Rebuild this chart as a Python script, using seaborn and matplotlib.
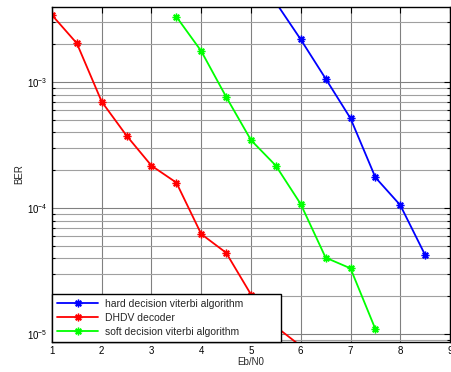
import numpy as np
import pandas as pd
import matplotlib
matplotlib.use("Agg")
import matplotlib.pyplot as plt
import seaborn as sns
from matplotlib.ticker import LogLocator, NullFormatter

# data
hard_x = [5.0, 5.5, 6.0, 6.5, 7.0, 7.5, 8.0, 8.5]
hard_y = [9.0e-3, 4.3e-3, 2.19e-3, 1.07e-3, 5.18e-4, 1.76e-4, 1.06e-4, 4.26e-5]
dhdv_x = [1.0, 1.5, 2.0, 2.5, 3.0, 3.5, 4.0, 4.5, 5.0, 5.5, 6.0]
dhdv_y = [3.42e-3, 2.04e-3, 7.02e-4, 3.77e-4, 2.18e-4, 1.6e-4, 6.25e-5, 4.44e-5, 2.07e-5, 1.15e-5, 8.07e-6]
soft_x = [3.5, 4.0, 4.5, 5.0, 5.5, 6.0, 6.5, 7.0, 7.5]
soft_y = [3.32e-3, 1.77e-3, 7.68e-4, 3.48e-4, 2.18e-4, 1.08e-4, 4.06e-5, 3.34e-5, 1.1e-5]
labels = ["hard decision viterbi algorithm", "DHDV decoder", "soft decision viterbi algorithm"]
colors = ["#0000ff", "#ff0000", "#00ff00"]

df = pd.concat([
    pd.DataFrame({"Eb/N0": hard_x, "BER": hard_y, "series": labels[0]}),
    pd.DataFrame({"Eb/N0": dhdv_x, "BER": dhdv_y, "series": labels[1]}),
    pd.DataFrame({"Eb/N0": soft_x, "BER": soft_y, "series": labels[2]}),
])

sns.set_theme(style="white")
plt.rcParams["font.family"] = ["Liberation Sans", "DejaVu Sans"]
plt.rcParams["mathtext.fontset"] = "custom"
plt.rcParams["mathtext.rm"] = "Liberation Sans"

fig = plt.figure(figsize=(4.52, 3.72), dpi=100)
ax = fig.add_axes([0.115, 0.0815, 0.8806, 0.8995])

sns.lineplot(data=df, x="Eb/N0", y="BER", hue="series", palette=colors,
             hue_order=labels, marker=(8, 2, 0), markersize=5.5,
             linewidth=1.3, ax=ax, sort=False, estimator=None, legend=False)

for line, c, lab in zip(ax.get_lines(), colors, labels):
    line.set_markeredgecolor(c)
    line.set_markerfacecolor(c)
    line.set_markeredgewidth(1.0)
    line.set_label(lab)

ax.set_yscale("log")
ax.set_xlim(1, 9)
ax.set_ylim(8.74e-6, 3.96e-3)
ax.set_xticks(range(1, 10))
ax.yaxis.set_major_locator(LogLocator(base=10))
ax.yaxis.set_minor_locator(LogLocator(base=10, subs=np.arange(2, 10)))
ax.yaxis.set_minor_formatter(NullFormatter())

ax.grid(True, which="major", color="#808080", linewidth=0.8)
ax.grid(True, which="minor", axis="y", color="#a0a0a0", linewidth=0.8)
ax.set_axisbelow(True)

ax.tick_params(which="both", direction="in", top=True, right=True, labelsize=7,
               colors="black", pad=3)
ax.tick_params(which="major", length=4, width=0.8)
ax.tick_params(which="minor", length=2, width=0.8, left=True, right=True)
for s in ax.spines.values():
    s.set_color("black")
    s.set_linewidth(1.0)

ax.set_xlabel("Eb/N0", fontsize=7, labelpad=1)
ax.set_ylabel("BER", fontsize=7, labelpad=2)

leg = ax.legend(loc="lower left", fontsize=7.5, frameon=True, fancybox=False,
                bbox_to_anchor=(0, 0, (281 - 52) / 398, 0.15), mode="expand",
                borderaxespad=0, handlelength=4.0, handletextpad=0.6,
                borderpad=0.45, labelspacing=0.4, edgecolor="black", framealpha=1)
leg.get_frame().set_linewidth(1.0)

fig.savefig("out.png", dpi=100)
